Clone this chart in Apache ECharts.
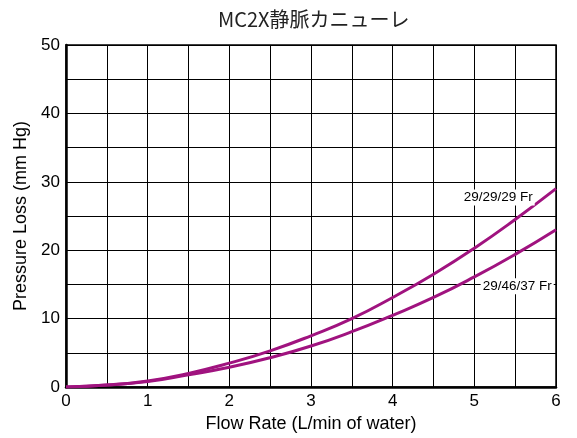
<!DOCTYPE html>
<html><head><meta charset="utf-8">
<script src="https://cdn.jsdelivr.net/npm/echarts@6/dist/echarts.min.js"></script>
<style>html,body{margin:0;padding:0;background:#fff}#c{width:577px;height:438px}</style>
</head><body><div id="c"></div>
<script>
const flow = [0, 0.5, 1, 1.5, 2, 2.5, 3, 3.5, 4, 4.5, 5, 5.5, 6];
const loss292929 = [0, 0.3, 0.9, 2.0, 3.5, 5.3, 7.5, 10.0, 13.1, 16.5, 20.3, 24.5, 29.0];
const loss294637 = [0, 0.3, 0.8, 1.8, 2.9, 4.3, 6.0, 8.1, 10.5, 13.1, 16.1, 19.4, 23.0];
const seriesNames = ['29/29/29 Fr', '29/46/37 Fr'];
const labelIndex = 11;

const chart = echarts.init(document.getElementById('c'));
const color = '#a0137f';
function mk(vals, name, offset) {
  return vals.map((v, i) => {
    const d = { value: [flow[i], v] };
    if (i === labelIndex) {
      d.label = { show: true, formatter: name, position: 'inside', offset: offset,
        fontFamily: 'Liberation Sans', fontSize: 13.5, color: '#000',
        backgroundColor: '#fff', padding: [1, 2] };
    }
    return d;
  });
}
chart.setOption({
  animation: false,
  title: { text: 'MC2X静脈カニューレ', left: 213, top: 4,
    textStyle: { fontFamily: 'Noto Sans CJK JP', fontSize: 20, fontWeight: 'normal', color: '#222' } },
  grid: { left: 66, right: 21, top: 45, bottom: 50, show: true, borderColor: '#000', borderWidth: 1.5 },
  xAxis: { type: 'value', min: 0, max: 6, interval: 0.5,
    name: 'Flow Rate (L/min of water)', nameLocation: 'middle', nameGap: 27,
    nameTextStyle: { fontFamily: 'Liberation Sans', fontSize: 18, color: '#000' },
    axisLine: { lineStyle: { color: '#000', width: 2.5 } },
    axisTick: { show: false },
    axisLabel: { fontFamily: 'Liberation Sans', fontSize: 17, color: '#000', margin: 6,
      formatter: v => (Math.abs(v - Math.round(v)) < 1e-6 ? String(Math.round(v)) : '') },
    splitLine: { show: true, lineStyle: { color: '#000', width: 1 } } },
  yAxis: { type: 'value', min: 0, max: 50, interval: 5,
    name: 'Pressure Loss (mm Hg)', nameLocation: 'middle', nameGap: 36,
    nameTextStyle: { fontFamily: 'Liberation Sans', fontSize: 18, color: '#000' },
    axisLine: { show: true, lineStyle: { color: '#000', width: 2.5 } },
    axisTick: { show: false },
    axisLabel: { fontFamily: 'Liberation Sans', fontSize: 17, color: '#000', margin: 6,
      formatter: v => (v % 10 === 0 ? String(v) : '') },
    splitLine: { show: true, lineStyle: { color: '#000', width: 1 } } },
  series: [
    { name: seriesNames[0], type: 'line', smooth: true, showSymbol: true, symbol: 'circle', symbolSize: 0,
      lineStyle: { color: color, width: 3 }, itemStyle: { color: color },
      data: mk(loss292929, seriesNames[0], [-17, -22]), z: 3 },
    { name: seriesNames[1], type: 'line', smooth: true, showSymbol: true, symbol: 'circle', symbolSize: 0,
      lineStyle: { color: color, width: 3 }, itemStyle: { color: color },
      data: mk(loss294637, seriesNames[1], [2, 32]), z: 3 }
  ]
});
</script></body></html>
